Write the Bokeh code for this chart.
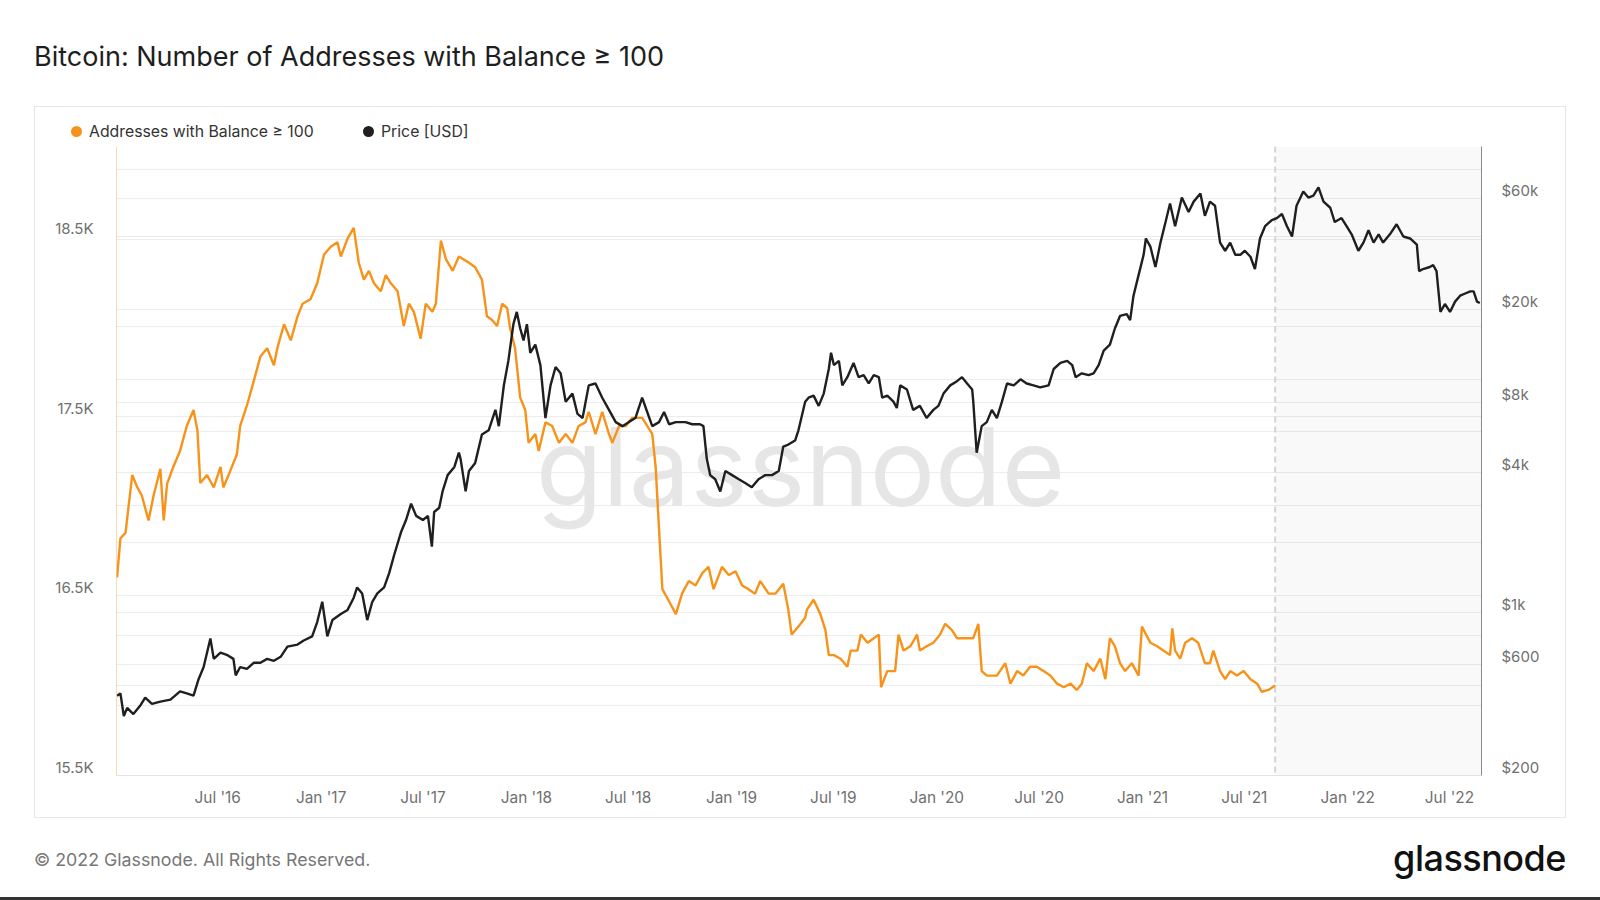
import pandas as pd
from bokeh.plotting import figure
from bokeh.layouts import column
from bokeh.models import (Range1d, LogScale, LogAxis, LinearAxis, FixedTicker, Grid, DatetimeTickFormatter,
                          Span, BoxAnnotation, Label, ColumnDataSource, Div)
from bokeh.embed import file_html
from bokeh.resources import INLINE

# ---------------- data ----------------
addr_dates = ["2016-01-04","2016-01-10","2016-01-19","2016-01-31","2016-02-09","2016-02-17","2016-02-29","2016-03-09",
"2016-03-21","2016-03-27","2016-04-02","2016-04-13","2016-04-25","2016-05-07","2016-05-19","2016-05-26","2016-05-31",
"2016-06-12","2016-06-24","2016-07-06","2016-07-11","2016-07-23","2016-08-04","2016-08-10","2016-08-22","2016-09-03",
"2016-09-15","2016-09-27","2016-10-09","2016-10-15","2016-10-27","2016-11-08","2016-11-20","2016-11-29","2016-12-13",
"2016-12-25","2017-01-06","2017-01-18","2017-01-30","2017-02-05","2017-02-17","2017-02-28","2017-03-09","2017-03-18",
"2017-03-27","2017-04-05","2017-04-17","2017-04-26","2017-05-05","2017-05-17","2017-05-28","2017-06-06","2017-06-15",
"2017-06-27","2017-07-06","2017-07-18","2017-07-24","2017-08-02","2017-08-11","2017-08-23","2017-09-03","2017-09-21",
"2017-10-02","2017-10-14","2017-10-23","2017-11-01","2017-11-10","2017-11-19","2017-11-28","2017-12-03","2017-12-12",
"2017-12-21","2017-12-30","2018-01-05","2018-01-17","2018-01-23","2018-02-04","2018-02-16","2018-02-28","2018-03-12",
"2018-03-24","2018-04-04","2018-04-16","2018-04-22","2018-05-04","2018-05-16","2018-05-28","2018-06-03","2018-06-15",
"2018-06-27","2018-07-08","2018-07-26","2018-08-04","2018-08-13","2018-08-19","2018-08-25","2018-08-31","2018-09-12",
"2018-09-24","2018-10-05","2018-10-17","2018-10-29","2018-11-10","2018-11-21","2018-11-30","2018-12-15","2018-12-27",
"2019-01-08","2019-01-20","2019-01-31","2019-02-12","2019-02-21","2019-03-08","2019-03-20","2019-04-03","2019-04-12",
"2019-04-18","2019-04-30","2019-05-12","2019-05-15","2019-05-27","2019-06-08","2019-06-17","2019-06-23","2019-07-02",
"2019-07-14","2019-07-26","2019-08-01","2019-08-13","2019-08-19","2019-08-31","2019-09-11","2019-09-20","2019-09-24",
"2019-10-05","2019-10-19","2019-10-25","2019-11-03","2019-11-15","2019-11-27","2019-12-02","2019-12-14","2019-12-26",
"2020-01-07","2020-01-16","2020-01-28","2020-02-06","2020-02-24","2020-03-06","2020-03-15","2020-03-21","2020-03-30",
"2020-04-17","2020-05-02","2020-05-11","2020-05-23","2020-06-03","2020-06-15","2020-06-27","2020-07-09","2020-07-21",
"2020-08-02","2020-08-14","2020-08-26","2020-09-06","2020-09-15","2020-09-24","2020-10-06","2020-10-18","2020-10-27",
"2020-11-04","2020-11-13","2020-11-22","2020-12-01","2020-12-13","2020-12-25","2020-12-31","2021-01-09","2021-01-15",
"2021-01-27","2021-02-07","2021-02-19","2021-02-23","2021-02-28","2021-03-09","2021-03-18","2021-03-30","2021-04-10",
"2021-04-22","2021-05-01","2021-05-07","2021-05-19","2021-05-28","2021-06-06","2021-06-18","2021-06-30","2021-07-12",
"2021-07-24","2021-08-01","2021-08-13","2021-08-25"]
addr_values = [16602,16820,16850,17172,17103,17058,16919,17058,
17207,16919,17123,17217,17306,17445,17534,17420,17128,
17172,17103,17217,17103,17192,17286,17445,17559,17693,
17832,17877,17783,17877,18011,17921,18055,18125,18150,
18239,18398,18442,18467,18388,18487,18547,18353,18259,
18308,18239,18194,18284,18239,18194,18001,18125,18080,
17931,18125,18080,18125,18477,18373,18308,18388,18353,
18328,18259,18055,18035,18001,18125,18100,17991,17877,
17604,17534,17351,17400,17306,17465,17445,17351,17400,
17351,17445,17465,17524,17400,17524,17400,17351,17445,
17445,17490,17490,17445,17400,17217,16874,16537,16468,
16398,16512,16582,16557,16626,16661,16537,16661,16616,
16636,16557,16537,16512,16582,16512,16512,16567,16423,
16284,16329,16378,16423,16478,16398,16309,16170,16170,
16150,16105,16195,16195,16284,16239,16264,16284,15991,
16081,16081,16284,16195,16219,16284,16195,16219,16239,
16284,16344,16309,16264,16264,16264,16344,16081,16056,
16056,16125,16011,16081,16056,16105,16105,16081,16056,
16011,15991,16011,15976,16011,16125,16081,16150,16036,
16264,16219,16125,16081,16125,16056,16329,16274,16239,
16219,16195,16170,16319,16195,16150,16239,16264,16239,
16125,16125,16195,16081,16036,16081,16056,16081,16036,
16011,15966,15976,16001]

price_dates = ["2016-01-04","2016-01-10","2016-01-16","2016-01-22","2016-02-02","2016-02-14","2016-02-23","2016-03-06",
"2016-03-21","2016-04-08","2016-04-25","2016-05-07","2016-05-19","2016-05-28","2016-06-06","2016-06-18","2016-06-24",
"2016-07-06","2016-07-17","2016-07-29","2016-08-02","2016-08-10","2016-08-22","2016-09-03","2016-09-15","2016-09-27",
"2016-10-09","2016-10-21","2016-11-02","2016-11-20","2016-12-01","2016-12-16","2016-12-25","2017-01-03","2017-01-12",
"2017-01-21","2017-02-05","2017-02-17","2017-02-28","2017-03-06","2017-03-15","2017-03-24","2017-04-02","2017-04-11",
"2017-04-23","2017-05-02","2017-05-11","2017-05-23","2017-06-01","2017-06-10","2017-06-19","2017-07-01","2017-07-10",
"2017-07-17","2017-07-21","2017-07-30","2017-08-05","2017-08-14","2017-08-26","2017-09-03","2017-09-06","2017-09-15",
"2017-09-21","2017-10-02","2017-10-14","2017-10-26","2017-11-07","2017-11-13","2017-11-22","2017-11-30","2017-12-09",
"2017-12-15","2017-12-21","2017-12-27","2018-01-02","2018-01-08","2018-01-17","2018-01-26","2018-02-04","2018-02-13",
"2018-02-22","2018-03-03","2018-03-12","2018-03-24","2018-04-02","2018-04-11","2018-04-22","2018-05-04","2018-05-16",
"2018-05-28","2018-06-09","2018-06-21","2018-07-02","2018-07-14","2018-07-26","2018-08-04","2018-08-13","2018-08-25",
"2018-09-03","2018-09-12","2018-09-24","2018-10-11","2018-10-23","2018-11-06","2018-11-12","2018-11-18","2018-11-24",
"2018-12-03","2018-12-12","2018-12-21","2019-01-02","2019-01-14","2019-01-26","2019-02-06","2019-02-18","2019-03-02",
"2019-03-14","2019-03-26","2019-04-03","2019-04-12","2019-04-24","2019-04-30","2019-05-12","2019-05-18","2019-05-27",
"2019-06-05","2019-06-14","2019-06-23","2019-06-27","2019-07-02","2019-07-11","2019-07-17","2019-07-26","2019-08-06",
"2019-08-15","2019-08-24","2019-09-02","2019-09-11","2019-09-20","2019-09-26","2019-10-05","2019-10-16","2019-10-22",
"2019-10-28","2019-11-09","2019-11-20","2019-12-02","2019-12-14","2019-12-26","2020-01-04","2020-01-13","2020-01-25",
"2020-02-06","2020-02-15","2020-02-24","2020-03-04","2020-03-06","2020-03-12","2020-03-21","2020-03-30","2020-04-08",
"2020-04-17","2020-04-26","2020-05-05","2020-05-17","2020-05-29","2020-06-09","2020-06-21","2020-07-03","2020-07-18",
"2020-07-27","2020-08-08","2020-08-20","2020-08-29","2020-09-04","2020-09-15","2020-09-27","2020-10-06","2020-10-15",
"2020-10-24","2020-11-04","2020-11-13","2020-11-22","2020-12-04","2020-12-10","2020-12-16","2020-12-25","2021-01-03",
"2021-01-07","2021-01-15","2021-01-24","2021-02-02","2021-02-11","2021-02-19","2021-02-28","2021-03-12","2021-03-24",
"2021-04-02","2021-04-14","2021-04-22","2021-05-01","2021-05-10","2021-05-19","2021-05-28","2021-06-06","2021-06-15",
"2021-06-24","2021-07-02","2021-07-12","2021-07-20","2021-07-29","2021-08-07","2021-08-19","2021-08-28","2021-09-06",
"2021-09-15","2021-09-24","2021-10-02","2021-10-14","2021-10-23","2021-11-01","2021-11-10","2021-11-19","2021-12-01",
"2021-12-09","2021-12-21","2021-12-30","2022-01-08","2022-01-20","2022-01-29","2022-02-07","2022-02-16","2022-02-25",
"2022-03-05","2022-03-17","2022-03-29","2022-04-10","2022-04-22","2022-05-04","2022-05-08","2022-05-15","2022-05-27",
"2022-06-02","2022-06-08","2022-06-15","2022-06-23","2022-07-02","2022-07-11","2022-07-20","2022-07-29","2022-08-07",
"2022-08-13","2022-08-19","2022-08-24"]
price_values = [440,450,360,390,367,398,432,406,
415,423,459,450,440,518,584,775,633,
673,659,633,538,584,573,609,609,633,
621,646,714,729,759,791,911,1113,791,
929,987,1027,1159,1282,1208,929,1113,1208,
1282,1477,1771,2211,2496,2933,2600,2496,2600,
1919,2703,2817,3311,3890,4217,4855,4570,3311,
4050,4389,5816,6058,7412,6311,9441,12026,17290,
19515,16600,14723,17290,13032,14116,11535,6838,9441,
11315,10636,8037,8703,7120,6838,9441,9618,8357,
7412,6565,6311,6565,6838,8357,7258,6311,6565,
7258,6430,6565,6565,6430,6430,6311,4570,3890,
3735,3311,4050,3890,3735,3589,3449,3735,3890,
3890,4050,5157,5260,5475,6058,8037,8357,8531,
7709,8703,11100,13032,11535,12026,9441,10240,11780,
10240,10440,9618,10440,10240,8357,8531,8037,7550,
9441,9066,7412,7709,6838,7412,7709,8703,9441,
9840,10240,9618,9066,8037,4855,6311,6565,7412,
6838,8037,9618,9441,10025,9618,9441,9250,9441,
11100,11780,12026,11535,10240,10636,10440,10636,11535,
13300,14116,16600,18750,19100,17990,22900,28050,34300,
40300,37200,30400,38700,47400,56900,45500,60400,52400,
58000,62800,50400,58000,55700,38700,35700,38700,34300,
34300,35700,33650,29800,40300,45500,48300,49300,51300,
45500,41100,55700,64100,60400,61600,66800,58000,54600,
47400,49300,45500,42000,35700,38700,43700,38700,42000,
38700,42000,46400,41100,40300,37900,29200,29800,30400,
31000,29200,19500,21100,19500,21600,22900,23400,23900,
23900,21600,21300]

x_start, x_end = "2016-01-03", "2022-08-27"
last_addr_date = "2021-08-25"

x_tick_dates = ["2016-07-01","2017-01-01","2017-07-01","2018-01-01","2018-07-01","2019-01-01","2019-07-01",
                "2020-01-01","2020-07-01","2021-01-01","2021-07-01","2022-01-01","2022-07-01"]
addr_min, addr_max = 15500, 19000
addr_tick_values = [15500, 16500, 17500, 18500]
addr_tick_labels = ["15.5K", "16.5K", "17.5K", "18.5K"]
addr_grid_values = [15500, 16000, 16500, 17000, 17500, 18000, 18500, 19000]
price_min, price_max = 200, 100000
price_tick_values = [200, 600, 1000, 4000, 8000, 20000, 60000]
price_tick_labels = ["$200", "$600", "$1k", "$4k", "$8k", "$20k", "$60k"]
price_grid_values = [200, 400, 600, 800, 1000, 2000, 4000, 6000, 8000, 10000, 20000, 40000, 60000, 80000, 100000]

TITLE = "Bitcoin: Number of Addresses with Balance ≥ 100"
COPYRIGHT = "© 2022 Glassnode. All Rights Reserved."
BRAND = "glassnode"
SERIES_NAMES = ["Addresses with Balance ≥ 100", "Price [USD]"]

# ---------------- styling constants ----------------
FONT = "Inter"
ORANGE = "#f7931a"
BLACK = "#1f1f1f"
TICK_COLOR = "#707070"
CARD_INNER_W = 1530
LEGEND_H = 38
PLOT_H = 712 - 2 - LEGEND_H
FRAME_L, FRAME_R, FRAME_T, FRAME_B = 81, 84, 1, 42
FRAME_H = PLOT_H - FRAME_T - FRAME_B
LABEL_LIFT_PX = 8  # y tick labels sit just above their grid lines


def ms(d):
    return pd.Timestamp(d).value / 1e6


# ---------------- title (html) ----------------
title_div = Div(text=(f'<div style="padding:41px 0 0 34px;font-family:Inter;font-size:27px;line-height:32px;'
                      f'color:#1e1e1e;white-space:nowrap;">{TITLE}</div>'),
                width=1580, height=106, margin=0)

# ---------------- legend row inside the card (html) ----------------
def legend_entry(dot_left, text_left, color, label):
    return (f'<span style="position:absolute;left:{dot_left}px;top:19px;width:11px;height:11px;'
            f'border-radius:50%;background:{color};"></span>'
            f'<span style="position:absolute;left:{text_left}px;top:15px;line-height:20px;'
            f'white-space:nowrap;">{label}</span>')

legend_div = Div(text=(f'<div style="position:relative;width:{CARD_INNER_W}px;height:{LEGEND_H}px;'
                       'font-family:Inter;font-size:15.8px;color:#333333;">'
                       + legend_entry(36, 54, ORANGE, SERIES_NAMES[0])
                       + legend_entry(328, 346, BLACK, SERIES_NAMES[1])
                       + '</div>'),
                 width=CARD_INNER_W, height=LEGEND_H, margin=0)

# ---------------- main chart ----------------
p = figure(width=CARD_INNER_W, height=PLOT_H, x_axis_type="datetime", y_axis_location=None,
           x_range=Range1d(ms(x_start), ms(x_end)), y_range=Range1d(addr_min, addr_max),
           output_backend="svg", toolbar_location=None,
           min_border_left=FRAME_L, min_border_right=FRAME_R, min_border_top=FRAME_T,
           min_border_bottom=FRAME_B,
           background_fill_color="white", border_fill_color="white", outline_line_color=None)
p.margin = 0

lift_lin = LABEL_LIFT_PX * (addr_max - addr_min) / FRAME_H
lift_log = 10 ** (LABEL_LIFT_PX * 2.69897 / FRAME_H)
p.extra_y_ranges = {
    "price": Range1d(price_min, price_max),
    "addr_lbl": Range1d(addr_min - lift_lin, addr_max - lift_lin),
    "price_lbl": Range1d(price_min / lift_log, price_max / lift_log),
}
p.extra_y_scales = {"price": LogScale(), "price_lbl": LogScale()}

# grids
p.xgrid.visible = False
p.add_layout(Grid(dimension=1, ticker=FixedTicker(ticks=addr_grid_values), grid_line_color="#ececec"))
p.add_layout(Grid(dimension=1, ticker=FixedTicker(ticks=price_grid_values), y_range_name="price",
                  grid_line_color="#ececec"))

# x axis
xa = p.xaxis[0]
xa.ticker = FixedTicker(ticks=[ms(d) for d in x_tick_dates])
fmt = "%b '%y"
xa.formatter = DatetimeTickFormatter(years=fmt, months=fmt, days=fmt, hours=fmt, hourmin=fmt,
                                     minutes=fmt, minsec=fmt, seconds=fmt, milliseconds=fmt, microseconds=fmt)
xa.axis_line_color = "#e3e3e3"
xa.major_tick_line_color = None
xa.minor_tick_line_color = None
xa.major_label_standoff = 6
xa.major_label_text_font = FONT
xa.major_label_text_font_size = "15.4px"
xa.major_label_text_color = TICK_COLOR

# left axis
ya = LinearAxis(y_range_name="addr_lbl", ticker=FixedTicker(ticks=addr_tick_values))
ya.major_label_overrides = dict(zip(addr_tick_values, addr_tick_labels))
ya.axis_line_color = ORANGE
ya.axis_line_alpha = 0.35
ya.major_tick_line_color = None
ya.minor_tick_line_color = None
ya.major_label_standoff = 17
ya.major_label_text_font = FONT
ya.major_label_text_font_size = "15px"
ya.major_label_text_color = TICK_COLOR
p.add_layout(ya, "left")

# right axis
ra = LogAxis(y_range_name="price_lbl", ticker=FixedTicker(ticks=price_tick_values))
ra.major_label_overrides = dict(zip(price_tick_values, price_tick_labels))
ra.axis_line_color = "#8a8a8a"
ra.major_tick_line_color = None
ra.minor_tick_line_color = None
ra.major_label_standoff = 14
ra.major_label_text_font = FONT
ra.major_label_text_font_size = "15px"
ra.major_label_text_color = TICK_COLOR
p.add_layout(ra, "right")

# watermark, shaded tail
p.add_layout(Label(x=684, y=310, x_units="screen", y_units="screen", text=BRAND,
                   text_font=FONT, text_font_size="109px", text_color="#e6e6e6",
                   text_align="center", text_baseline="middle", level="underlay"))
p.add_layout(BoxAnnotation(left=ms(last_addr_date), fill_color="#000000", fill_alpha=0.022,
                           line_color=None, level="underlay"))
p.add_layout(Span(location=ms(last_addr_date), dimension="height", line_color="#d4d4d4",
                  line_dash="6 4", line_width=2, level="underlay"))

# series
addr_src = ColumnDataSource(dict(date=pd.to_datetime(addr_dates), value=addr_values))
price_src = ColumnDataSource(dict(date=pd.to_datetime(price_dates), value=price_values))
p.line(x="date", y="value", source=addr_src, line_color=ORANGE, line_width=2.4)
p.line(x="date", y="value", source=price_src, line_color=BLACK, line_width=2.4, y_range_name="price")

card = column(legend_div, p, spacing=0, margin=(0, 0, 0, 34),
              styles={"border": "1px solid #e6e6e6"})

# ---------------- footer (html) ----------------
footer_div = Div(text=('<div style="position:relative;width:1600px;height:82px;font-family:Inter;">'
                       '<span style="position:absolute;left:34px;top:31px;font-size:17.8px;line-height:22px;'
                       f'color:#777777;white-space:nowrap;">{COPYRIGHT}</span>'
                       '<span style="position:absolute;right:34px;top:22px;font-size:36px;line-height:36px;'
                       f'color:#111111;white-space:nowrap;font-weight:500;letter-spacing:-0.5px;">{BRAND}</span>'
                       '<div style="position:absolute;left:0;top:79px;width:1600px;height:3px;'
                       'background:#333333;"></div>'
                       '</div>'),
                 width=1600, height=82, margin=0)

layout = column(title_div, card, footer_div, spacing=0)
open("out.html", "w").write(file_html(layout, INLINE))
